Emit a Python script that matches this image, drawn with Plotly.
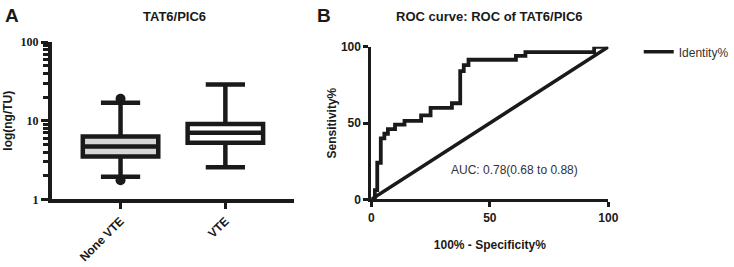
import plotly.graph_objects as go

W, H = 734, 267

# ---- Panel A data (box plot, log scale) ----
groups = ["None VTE", "VTE"]
q1 = [3.5, 5.25]
median = [4.7, 7.05]
q3 = [6.3, 9.1]
lower_whisker = [1.94, 2.56]
upper_whisker = [16.9, 28.8]
outlier_group = ["None VTE", "None VTE"]
outlier_vals = [19.0, 1.75]
box_fills = ["#d6d6d6", "#ffffff"]

# ---- Panel B data (ROC curve) ----
roc_fpr = [0, 1.5, 1.5, 2.5, 2.5, 4, 4, 5.5, 5.5, 7, 7, 10, 10, 14, 14, 21, 21,
           25, 25, 34, 34, 37.5, 37.5, 39, 39, 41, 41, 61, 61, 65, 65, 94, 94, 100]
roc_tpr = [0, 0, 6, 6, 24, 24, 40, 40, 43, 43, 46, 46, 49, 49, 51.5, 51.5, 55,
           55, 60, 60, 63, 63, 84, 84, 88, 88, 91.5, 91.5, 94, 94, 96.5, 96.5, 100, 100]
identity_x = [0, 100]
identity_y = [0, 100]
auc_text = "AUC: 0.78(0.68 to 0.88)"

SANS = "Liberation Sans, Arial, sans-serif"
SERIF = "Liberation Serif, Times New Roman, serif"
INK = "#1a1a1a"

fig = go.Figure()

for i, g in enumerate(groups):
    fig.add_trace(go.Box(
        x=[g], q1=[q1[i]], median=[median[i]], q3=[q3[i]],
        lowerfence=[lower_whisker[i]], upperfence=[upper_whisker[i]],
        fillcolor=box_fills[i], line=dict(color=INK, width=4.5),
        width=0.72, whiskerwidth=0.52, boxpoints=False,
        showlegend=False, xaxis="x", yaxis="y",
    ))

fig.add_trace(go.Scatter(
    x=outlier_group, y=outlier_vals, mode="markers",
    marker=dict(color=INK, size=10), showlegend=False,
    xaxis="x", yaxis="y", cliponaxis=False,
))

fig.add_trace(go.Scatter(
    x=roc_fpr, y=roc_tpr, mode="lines",
    line=dict(color=INK, width=3.8), showlegend=False,
    xaxis="x2", yaxis="y2", cliponaxis=False,
))
fig.add_trace(go.Scatter(
    x=identity_x, y=identity_y, mode="lines", name="Identity%",
    line=dict(color=INK, width=3.5), showlegend=True,
    xaxis="x2", yaxis="y2", cliponaxis=False,
))

tickfont_sans = dict(family=SANS, size=12, color=INK, weight="bold")
titlefont = dict(family=SANS, size=12, color=INK, weight="bold")

fig.update_layout(
    width=W, height=H,
    margin=dict(l=0, r=0, t=0, b=0),
    paper_bgcolor="white", plot_bgcolor="white",
    showlegend=True,
    legend=dict(x=649 / W, y=1 - 32 / H, xanchor="left", yanchor="top",
                font=dict(family=SANS, size=12, color="#333"),
                bgcolor="rgba(0,0,0,0)", itemwidth=30),
    xaxis=dict(
        domain=[50 / W, 297 / W], anchor="y",
        type="category", range=[-0.654, 1.654],
        showline=True, linecolor=INK, linewidth=4,
        ticks="outside", ticklen=6, tickwidth=3, tickcolor=INK,
        tickangle=-45, tickfont=tickfont_sans, showgrid=False, zeroline=False,
    ),
    yaxis=dict(
        domain=[64 / H, 230 / H], anchor="x",
        type="log", range=[0, 2],
        tickvals=[1, 10, 100], ticktext=["1", "10", "100"],
        showline=True, linecolor=INK, linewidth=4,
        ticks="outside", ticklen=7, tickwidth=3, tickcolor=INK,
        minor=dict(ticks="outside", ticklen=5, tickwidth=2.5, tickcolor=INK, dtick="D1", showgrid=False),
        tickfont=dict(family=SERIF, size=12, color=INK, weight="bold"),
        title=dict(text="log(ng/TU)", font=titlefont, standoff=6),
        showgrid=False, zeroline=False,
    ),
    xaxis2=dict(
        domain=[376 / W, 618 / W], anchor="y2",
        range=[0, 100], tickvals=[0, 50, 100],
        showline=True, linecolor=INK, linewidth=3,
        ticks="outside", ticklen=5, tickwidth=3, tickcolor=INK,
        tickfont=tickfont_sans,
        title=dict(text="100% - Specificity%", font=titlefont, standoff=17),
        showgrid=False, zeroline=False,
    ),
    yaxis2=dict(
        domain=[64 / H, 225 / H], anchor="x2",
        range=[0, 100], tickvals=[0, 50, 100],
        showline=True, linecolor=INK, linewidth=3,
        ticks="outside", ticklen=5, tickwidth=3, tickcolor=INK,
        tickfont=tickfont_sans,
        title=dict(text="Sensitivity%", font=titlefont, standoff=2),
        showgrid=False, zeroline=False,
    ),
    annotations=[
        dict(text="A", x=0, y=1 - 9 / H, xref="paper", yref="paper",
             xanchor="left", yanchor="middle", showarrow=False,
             font=dict(family=SANS, size=19, color=INK, weight="bold")),
        dict(text="B", x=318 / W, y=1 - 9 / H, xref="paper", yref="paper",
             xanchor="left", yanchor="middle", showarrow=False,
             font=dict(family=SANS, size=19, color=INK, weight="bold")),
        dict(text="TAT6/PIC6", x=175 / W, y=1 - 10 / H, xref="paper", yref="paper",
             xanchor="center", yanchor="middle", showarrow=False,
             font=dict(family=SANS, size=13, color=INK, weight="bold")),
        dict(text="ROC curve: ROC of TAT6/PIC6", x=497 / W, y=1 - 10 / H, xref="paper", yref="paper",
             xanchor="center", yanchor="middle", showarrow=False,
             font=dict(family=SANS, size=13, color=INK, weight="bold")),
        dict(text=auc_text, x=60.3, y=19.3, xref="x2", yref="y2",
             xanchor="center", yanchor="middle", showarrow=False,
             font=dict(family=SANS, size=12, color="#333")),
    ],
)

fig.write_html("out.html",
               config={"displayModeBar": False},
               post_script="document.body.style.margin='0';document.body.style.padding='0';")
